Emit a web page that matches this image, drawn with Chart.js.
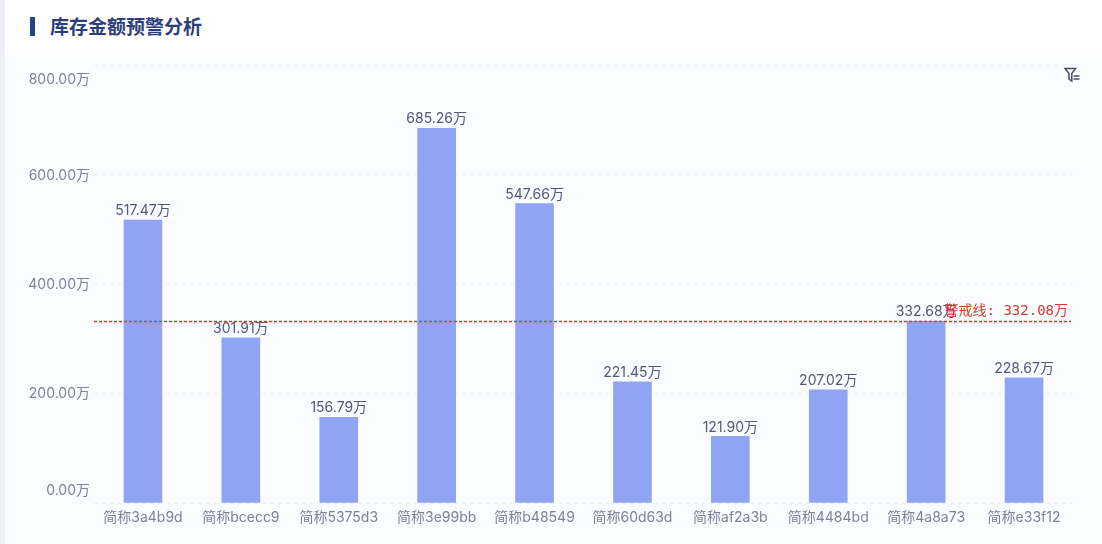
<!DOCTYPE html>
<html lang="zh">
<head>
<meta charset="utf-8">
<title>库存金额预警分析</title>
<script src="https://cdn.jsdelivr.net/npm/chart.js@4/dist/chart.umd.min.js"></script>
<style>
  html, body { margin: 0; padding: 0; background: #fff; }
  body { width: 1102px; height: 544px; position: relative; overflow: hidden; font-family: Inter, "Noto Sans CJK SC", sans-serif; }
  .side { position: absolute; left: 0; top: 0; width: 5px; height: 544px; background: #eef0f7; }
  .mark { position: absolute; left: 30px; top: 17px; width: 5px; height: 19px; background: #27408b; }
  .title { position: absolute; left: 50px; top: 15px; font-size: 19px; line-height: 26px; font-weight: 700; color: #2c3f7c; }
  .panel { position: absolute; left: 5px; top: 55px; width: 1097px; height: 489px; background: #fbfcff; }
  .wrap { position: absolute; left: 0; top: 0; width: 1102px; height: 544px; }
  .filter { position: absolute; left: 1064px; top: 67px; width: 16px; height: 16px; background: #fff; }
</style>
</head>
<body>
<div class="side"></div>
<div class="mark"></div>
<div class="title">库存金额预警分析</div>
<div class="panel"></div>
<div class="wrap"><canvas id="stockChart" width="1102" height="544"></canvas></div>
<svg class="filter" viewBox="0 0 16 16" fill="none" stroke="#4a4e69" stroke-width="1.5">
  <path d="M1 1.5h10.5L7.8 6.5v7.5L5 12V6.5z"/>
  <path d="M9.5 9h6M9.5 12h6"/>
</svg>
<script>
'use strict';

// ===== DATA =====
const categories = ['简称3a4b9d','简称bcecc9','简称5375d3','简称3e99bb','简称b48549','简称60d63d','简称af2a3b','简称4484bd','简称4a8a73','简称e33f12'];
const amounts = [517.47, 301.91, 156.79, 685.26, 547.66, 221.45, 121.90, 207.02, 332.68, 228.67];
const yTicks = [0, 200, 400, 600, 800];
const warningValue = 332.08;

const FONT = 'Inter, "Noto Sans CJK SC", sans-serif';
const wan = v => v.toFixed(2) + '万';

// Axis labels: first and last are pulled inside the grid, as in the original
const yLabelPlugin = {
  id: 'yLabels',
  afterDraw(chart) {
    const { ctx, scales: { y } } = chart;
    ctx.save();
    ctx.font = '14px ' + FONT;
    ctx.fillStyle = '#7f8198';
    ctx.textAlign = 'right';
    ctx.textBaseline = 'middle';
    yTicks.forEach(t => {
      let py = y.getPixelForValue(t) + 0.5;
      if (t === yTicks[0]) py -= 13;
      if (t === yTicks[yTicks.length - 1]) py += 13.5;
      ctx.fillText(wan(t), 90, py);
    });
    ctx.restore();
  }
};

// Value labels above each bar
const valueLabelPlugin = {
  id: 'valueLabels',
  afterDatasetsDraw(chart) {
    const { ctx } = chart;
    const bars = chart.getDatasetMeta(0).data;
    ctx.save();
    ctx.font = '14px ' + FONT;
    ctx.fillStyle = '#54577a';
    ctx.textAlign = 'center';
    ctx.textBaseline = 'bottom';
    bars.forEach((bar, i) => ctx.fillText(wan(amounts[i]), bar.x, bar.y - 2));
    ctx.restore();
  }
};

// Dashed warning line with its label
const warningPlugin = {
  id: 'warningLine',
  afterDraw(chart) {
    const { ctx, chartArea, scales: { y } } = chart;
    const py = y.getPixelForValue(warningValue);
    ctx.save();
    ctx.strokeStyle = '#c9402f';
    ctx.lineWidth = 1.4;
    ctx.setLineDash([3, 2]);
    ctx.beginPath();
    ctx.moveTo(chartArea.left, Math.floor(py) + 0.5);
    ctx.lineTo(chartArea.right - 2, Math.floor(py) + 0.5);
    ctx.stroke();
    ctx.setLineDash([]);
    ctx.font = '14px "DejaVu Sans Mono", "Noto Sans CJK SC", monospace';
    ctx.fillStyle = '#c9402f';
    ctx.textAlign = 'right';
    ctx.textBaseline = 'bottom';
    ctx.fillText('警戒线: ' + wan(warningValue), chartArea.right - 5, py - 3);
    ctx.restore();
  }
};

new Chart(document.getElementById('stockChart'), {
  type: 'bar',
  data: {
    labels: categories,
    datasets: [{
      data: amounts,
      backgroundColor: '#8fa5f3',
      borderWidth: 0,
      barThickness: 38
    }]
  },
  plugins: [yLabelPlugin, valueLabelPlugin, warningPlugin],
  options: {
    responsive: false,
    animation: false,
    layout: { padding: { top: 65.5, right: 29, bottom: 0, left: 0 } },
    plugins: { legend: { display: false }, tooltip: { enabled: false } },
    scales: {
      x: {
        grid: { display: false },
        border: { display: false },
        ticks: { color: '#7f8198', font: { family: FONT, size: 14 }, maxRotation: 0, autoSkip: false, padding: -2 },
        afterFit(scale) { scale.height = 41; }
      },
      y: {
        min: 0,
        max: 800,
        afterBuildTicks(scale) { scale.ticks = yTicks.map(value => ({ value })); },
        grid: { color: '#edf0f5', drawTicks: false, tickLength: 0 },
        border: { display: false, dash: [4, 4] },
        ticks: { display: false },
        afterFit(scale) { scale.width = 94; }
      }
    }
  }
});
</script>
</body>
</html>
